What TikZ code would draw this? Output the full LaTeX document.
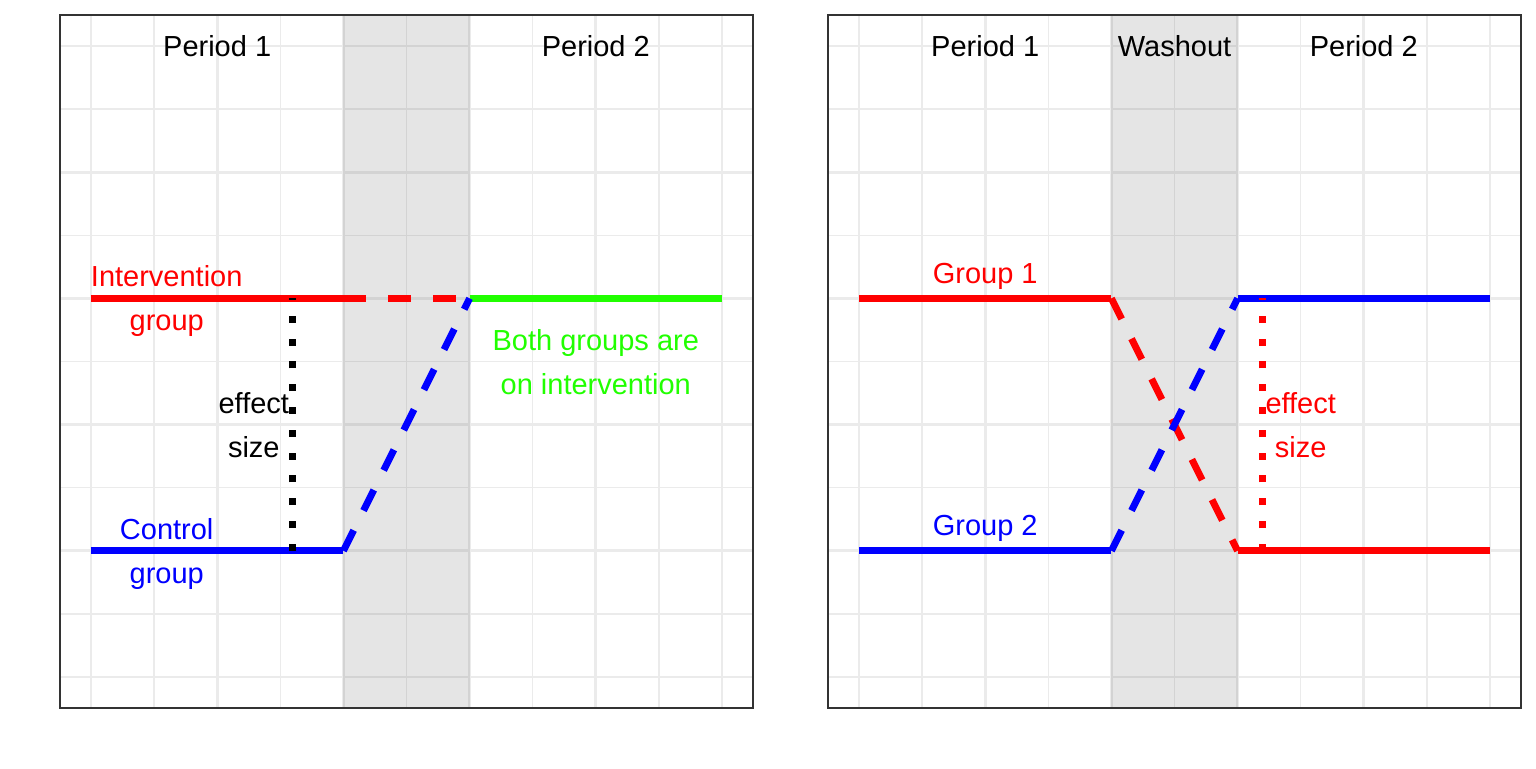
\documentclass[tikz,border=0pt]{standalone}
\usepackage{fontspec}
\setmainfont{Liberation Sans}
\usetikzlibrary{calc}
\definecolor{GridClr}{gray}{0.92}
\definecolor{FrameClr}{gray}{0.2}
\definecolor{GreenClr}{rgb}{0.13,1,0}

\tikzset{
  major/.style={GridClr, line width=1.45pt},
  minor/.style={GridClr, line width=0.75pt},
  solidline/.style={line width=3.5pt},
  dashline/.style={line width=3.5pt, dash pattern=on 11.5pt off 11pt},
  dotline/.style={line width=3.5pt, dash pattern=on 3.5pt off 7.9pt},
  lbl/.style={font=\fontsize{14.5}{22}\selectfont, align=center, inner sep=0pt, text depth=0pt},
}

\newcommand{\DrawPanel}{%
  \fill[white] (-0.49,-0.49) rectangle (10.49,10.49);
  \foreach \v in {1,3,...,9} {
    \draw[minor] (\v,-0.49) -- (\v,10.49);
    \draw[minor] (-0.49,\v) -- (10.49,\v);
  }
  \foreach \v in {0,2,...,10} {
    \draw[major] (\v,-0.49) -- (\v,10.49);
    \draw[major] (-0.49,\v) -- (10.49,\v);
  }
  \fill[black, opacity=0.1] (4,-0.49) rectangle (6,10.49);
}

\begin{document}
\begin{tikzpicture}[x=31.55pt, y=31.55pt]
\useasboundingbox (-1.442,-1.442) rectangle (22.90,10.729);

% parallel design
\begin{scope}
\DrawPanel
\coordinate (IA) at (0,6); \coordinate (IB) at (4,6);
\coordinate (IC) at (6,6); \coordinate (ID) at (10,6);
\coordinate (CA) at (0,2); \coordinate (CB) at (4,2);
\coordinate (ES) at (3.2,2); \coordinate (EE) at (3.2,6);

\draw[solidline, red] (IA) -- (IB);
\draw[dashline, red] (IB) -- (IC);
\draw[solidline, GreenClr] (IC) -- (ID);
\draw[solidline, blue] (CA) -- (CB);
\draw[dashline, blue] (CB) -- (IC);
\draw[dotline] (ES) -- (EE);

\node[lbl] (per1L) at (2,10) {Period 1};
\node[lbl] (per2L) at (8,10) {Period 2};
\node[lbl, red] (intL) at (1.2,6) {Intervention\\group};
\node[lbl, blue] (conL) at (1.2,2) {Control\\group};
\node[lbl] (effL) at (2.58,4) {effect\\size};
\node[lbl, GreenClr] (bothL) at (8,5) {Both groups are\\on intervention};

\draw[FrameClr, line width=0.6pt] (-0.49,-0.49) rectangle (10.49,10.49);
\end{scope}

% crossover design
\begin{scope}[shift={(12.171,0)}]
\DrawPanel
\coordinate (GA) at (0,6); \coordinate (GB) at (4,6);
\coordinate (GC) at (6,2); \coordinate (GD) at (10,2);
\coordinate (HA) at (0,2); \coordinate (HB) at (4,2);
\coordinate (HC) at (6,6); \coordinate (HD) at (10,6);
\coordinate (FS) at (6.4,2); \coordinate (FE) at (6.4,6);

\draw[solidline, red] (GA) -- (GB);
\draw[dashline, red] (GB) -- (GC);
\draw[solidline, red] (GC) -- (GD);
\draw[solidline, blue] (HA) -- (HB);
\draw[dashline, blue] (HB) -- (HC);
\draw[solidline, blue] (HC) -- (HD);
\draw[dotline, red] (FS) -- (FE);

\node[lbl] (per1R) at (2,10) {Period 1};
\node[lbl] (washR) at (5,10) {Washout};
\node[lbl] (per2R) at (8,10) {Period 2};
\node[lbl, red] (grp1R) at (2,6.4) {Group 1};
\node[lbl, blue] (grp2R) at (2,2.4) {Group 2};
\node[lbl, red] (effR) at (7,4) {effect\\size};

\draw[FrameClr, line width=0.6pt] (-0.49,-0.49) rectangle (10.49,10.49);
\end{scope}
\end{tikzpicture}
\end{document}
